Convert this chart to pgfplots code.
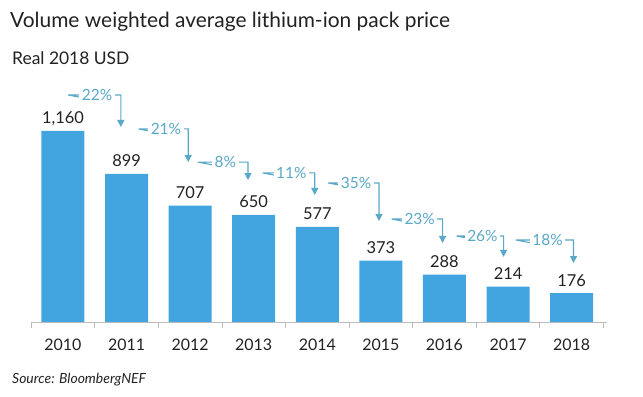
\documentclass[border=0pt]{standalone}
\usepackage{pgfplots}
\pgfplotsset{compat=1.18}
\usepackage{fontspec}
\setmainfont{Lato}
\usetikzlibrary{arrows.meta}
\definecolor{barblue}{HTML}{42A5E0}
\definecolor{annot}{HTML}{5AA8C8}
\definecolor{txt}{HTML}{222222}
\definecolor{axisgray}{HTML}{BBBBBB}
\newcommand{\chg}[5]{%
  \draw[annot, line width=1.1bp, -{Triangle[width=7bp,length=7bp]}]
    (axis cs:#1,#3) ++(0,-6bp) -- (axis cs:#1,#3)
    -- node[pos=0.55, fill=white, inner sep=2.5bp, text=annot, font=\fontsize{15.5}{16}\selectfont]{#5} (axis cs:#2,#3)
    -- (axis cs:#2,#4);}
\begin{document}
\begin{tikzpicture}
\path[use as bounding box] (0,0) rectangle (643bp,397bp);
\node[anchor=base west, text=txt, font=\fontsize{21}{24}\selectfont, inner sep=0] at (10bp,369bp) {Volume weighted average lithium-ion pack price};
\node[anchor=base west, text=txt, font=\fontsize{17.5}{20}\selectfont, inner sep=0] at (12bp,332bp) {Real 2018 USD};
\node[anchor=base west, text=txt, font=\itshape\fontsize{14}{16}\selectfont, inner sep=0] at (12bp,14bp) {Source: BloombergNEF};
\begin{axis}[
  at={(31.2bp,75bp)}, anchor=south west,
  scale only axis, width=575.4bp, height=237.2bp,
  xmin=-0.5, xmax=8.55, ymin=0, ymax=1440,
  axis x line*=bottom, axis y line=none,
  axis line style={axisgray, line width=0.8bp},
  x axis line style={-},
  xtick={0,...,8},
  xticklabels={2010,2011,2012,2013,2014,2015,2016,2017,2018},
  major tick length=0pt,
  minor xtick={-0.5,0.5,1.5,2.5,3.5,4.5,5.5,6.5,7.5,8.5},
  minor tick length=6bp, tick align=center,
  minor tick style={axisgray, line width=0.8bp},
  xticklabel style={text=txt, font=\fontsize{16}{18}\selectfont, anchor=base, yshift=-29bp},
  /pgf/number format/assume math mode=true,
  clip=false,
  ybar, bar width=43bp,
  nodes near coords={\pgfmathprintnumber[1000 sep={,}]{\pgfplotspointmeta}},
  every node near coord/.append style={anchor=base, yshift=7bp, text=txt, font=\fontsize{16.5}{18}\selectfont},
]
\addplot[fill=barblue, draw=none] coordinates {
 (0,1160) (1,899) (2,707) (3,650) (4,577) (5,373) (6,288) (7,214) (8,176)};
\chg{0.08}{0.91}{1378}{1184}{22\%}
\chg{1.19}{1.97}{1172}{971}{21\%}
\chg{2.12}{2.91}{971}{862}{8\%}
\chg{3.14}{3.96}{905}{771}{11\%}
\chg{4.17}{4.97}{844}{613}{35\%}
\chg{5.17}{5.97}{625}{480}{23\%}
\chg{6.19}{6.93}{522}{395}{26\%}
\chg{7.12}{8.03}{498}{358}{18\%}
\end{axis}
\end{tikzpicture}
\end{document}
